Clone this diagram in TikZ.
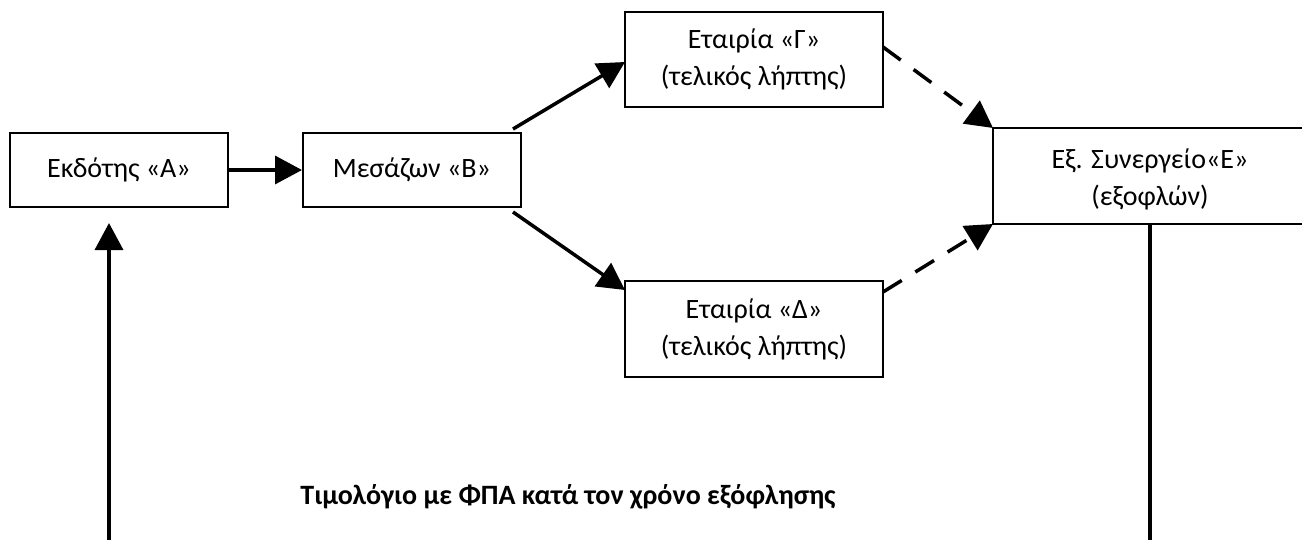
\documentclass[tikz,border=0pt]{standalone}
\usepackage{fontspec}
\setmainfont{Carlito}
\usetikzlibrary{arrows.meta}
\begin{document}
\begin{tikzpicture}[x=1pt,y=-1pt,
  box/.style={draw,line width=2pt,inner sep=0pt,align=center,font=\fontsize{28}{37}\selectfont},
  conn/.style={line width=3.5pt,-{Triangle[length=27pt,width=28pt]}},
  dconn/.style={conn,dash pattern=on 22pt off 16pt},
  plain/.style={line width=3.5pt}]
\useasboundingbox (0,0) rectangle (1302,539);
\node[box,minimum width=218pt,minimum height=74pt] (A) at (119,170) {Εκδότης «Α»};
\node[box,minimum width=218pt,minimum height=74pt] (B) at (412,170) {Μεσάζων «Β»};
\node[box,minimum width=258pt,minimum height=95pt] (G) at (754,59.5) {Εταιρία «Γ»\\(τελικός λήπτης)};
\node[box,minimum width=258pt,minimum height=96pt] (D) at (754,329) {Εταιρία «Δ»\\(τελικός λήπτης)};
\node[font=\fontsize{28}{37}\selectfont,align=center] (E) at (1150,179) {Εξ. Συνεργείο«Ε»\\(εξοφλών)};
\draw[line width=2pt] (1304,128) -- (993,128) -- (993,224) -- (1304,224);
\coordinate (Etl) at (993,128);
\coordinate (Ebl) at (993,224);
\coordinate (Eb) at (1150,224);
\coordinate (Eend) at (1150,541);
\coordinate (Astart) at (109,541);
\coordinate (Atip) at (109,223);
\coordinate (Bt) at (513,129);
\coordinate (Bb) at (513,212);
\coordinate (Gt) at (625,62);
\coordinate (Dt) at (625,290);
\coordinate (Gr) at (883,47);
\coordinate (Dr) at (883,292);
\draw[conn] (A.east) -- (B.west);
\draw[conn] (Bt) -- (Gt);
\draw[conn] (Bb) -- (Dt);
\draw[dconn] (Gr) -- (Etl);
\draw[dconn] (Dr) -- (Ebl);
\draw[conn] (Astart) -- (Atip);
\draw[plain] (Eb) -- (Eend);
\node[font=\fontsize{28}{34}\selectfont\bfseries] (T) at (568,497) {Τιμολόγιο με ΦΠΑ κατά τον χρόνο εξόφλησης};
\end{tikzpicture}
\end{document}
